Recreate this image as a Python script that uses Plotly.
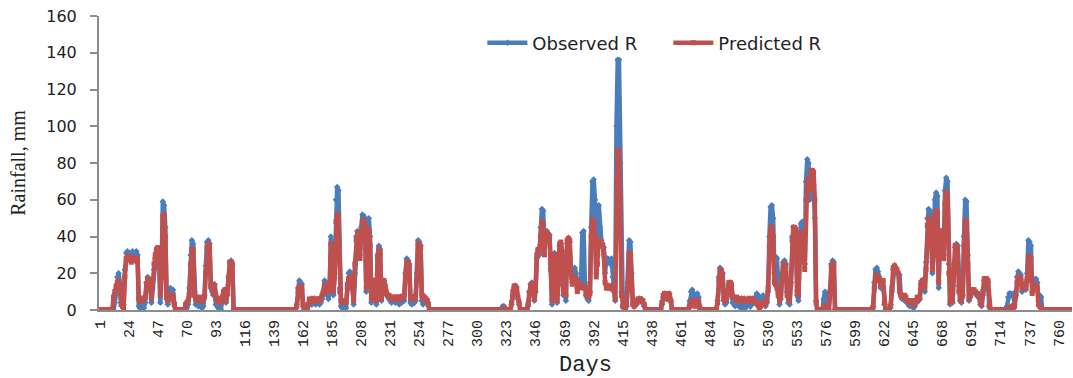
import plotly.graph_objects as go

# ---- data (days with rain; all other days are 0) ----
N_DAYS = 770
tick_days = [1, 24, 47, 70, 93, 116, 139, 162, 185, 208, 231, 254, 277, 300, 323, 346,
             369, 392, 415, 438, 461, 484, 507, 530, 553, 576, 599, 622, 645, 668, 691,
             714, 737, 760]

# Each wet spell: first day, observed values, predicted values (mm, consecutive days)
spell_a1_start = 12
spell_a1_obs = [0, 4, 10, 18, 20, 15, 4, 10, 3, 22, 31, 32, 30, 31, 28, 32, 31, 29, 32, 30,
                2, 1, 3, 2, 1, 4, 15, 18, 17, 16, 4, 12, 22, 28, 33, 31, 30, 4, 20, 59,
                57, 45, 6, 3, 10, 12, 8, 11, 4]
spell_a1_pred = [7, 10, 13, 15, 16, 14, 3, 2, 1, 18, 28, 29, 28, 28, 26, 29, 28, 27, 28, 28,
                 6, 5, 6, 5, 6, 7, 14, 17, 16, 15, 6, 16, 25, 30, 33, 34, 32, 8, 18, 51,
                 52, 40, 8, 5, 7, 8, 6, 8, 3]

spell_a2_start = 69
spell_a2_obs = [0, 1, 3, 12, 30, 38, 36, 10, 3, 5, 2, 4, 3, 1, 2, 8, 24, 37, 38, 36,
                12, 10, 8, 14, 3, 2, 1, 2, 0, 6, 9, 11, 4, 8, 18, 26, 27, 25]
spell_a2_pred = [3, 4, 5, 8, 25, 33, 33, 8, 6, 7, 5, 7, 6, 5, 6, 7, 20, 34, 36, 35,
                 13, 14, 9, 13, 6, 5, 6, 5, 4, 7, 10, 11, 5, 9, 17, 26, 26, 25]

spell_b_start = 157
spell_b_obs = [3, 12, 16, 15, 14, 2, 0, 0, 0, 2, 4, 5, 3, 4, 5, 3, 4, 5, 3, 4,
               6, 10, 16, 15, 8, 6, 10, 40, 30, 8, 20, 60, 67, 65, 12, 2, 1, 3, 2, 1,
               12, 20, 21, 19, 15, 3, 20, 40, 43, 42, 30, 45, 52, 51, 48, 10, 49, 50, 40, 4,
               14, 16, 12, 3, 30, 35, 33, 5, 14, 16, 12, 8, 7, 6, 5, 4, 6, 5, 4, 6,
               5, 3, 5, 4, 6, 5, 20, 28, 27, 25, 4, 3, 5, 4, 5, 20, 38, 37, 35, 5,
               3, 7, 5, 6, 4]
spell_b_pred = [2, 10, 13, 13, 12, 3, 0, 0, 0, 3, 6, 5, 6, 5, 6, 5, 6, 6, 5, 6,
                8, 10, 13, 14, 10, 11, 11, 36, 20, 10, 18, 48, 52, 51, 10, 5, 4, 5, 5, 4,
                14, 17, 18, 18, 12, 5, 25, 38, 42, 41, 28, 42, 48, 49, 45, 12, 43, 44, 35, 6,
                15, 16, 14, 5, 28, 33, 31, 6, 16, 16, 13, 9, 8, 8, 7, 6, 7, 7, 6, 7,
                7, 6, 7, 6, 7, 8, 18, 26, 26, 24, 6, 7, 7, 6, 7, 16, 36, 36, 34, 8,
                6, 7, 6, 5, 3]

spell_c1_start = 320
spell_c1_obs = [2, 2, 1, 0, 0, 0, 0, 3, 8, 12, 13, 12, 6, 3, 0, 0, 0, 0, 0, 0,
                2, 10, 14, 15, 13, 5, 10, 28, 33, 30, 45, 55, 54, 35, 42, 43, 40, 41, 25, 3,
                30, 31, 20, 4, 15, 35, 36, 30, 8, 14, 5, 36, 38, 37, 20, 15, 22, 23, 20, 12,
                14, 15, 16, 42, 43, 15, 8, 6, 5, 10, 45, 70, 71, 60, 20, 30, 57, 45, 38, 36,
                34, 20, 28, 28, 27, 25, 28, 18, 10, 5, 100, 136, 136, 80, 10, 2, 1, 0, 2, 15,
                38, 37, 20, 3, 5, 4, 3, 5, 6, 5, 6, 4, 2]
spell_c1_pred = [0, 1, 0, 0, 0, 0, 0, 4, 10, 13, 13, 12, 7, 4, 0, 0, 0, 0, 0, 0,
                 3, 9, 13, 14, 13, 6, 12, 30, 33, 32, 40, 48, 47, 30, 42, 42, 41, 40, 22, 5,
                 30, 30, 18, 5, 14, 36, 37, 32, 10, 15, 8, 38, 39, 38, 20, 14, 18, 18, 17, 10,
                 13, 14, 12, 14, 13, 12, 8, 8, 7, 9, 40, 49, 48, 40, 18, 25, 38, 36, 37, 35,
                 30, 15, 12, 12, 13, 12, 13, 12, 12, 6, 70, 87, 87, 60, 8, 2, 1, 0, 3, 12,
                 31, 30, 15, 3, 2, 3, 5, 6, 6, 6, 5, 5, 3]

spell_c2_start = 446
spell_c2_obs = [3, 7, 9, 8, 6, 8, 9, 5]
spell_c2_pred = [4, 8, 9, 8, 6, 9, 8, 5]

spell_d1_start = 467
spell_d1_obs = [1, 5, 10, 11, 9, 3, 8, 9, 7, 0]
spell_d1_pred = [0, 2, 4, 5, 5, 2, 4, 5, 4, 1]

spell_d2_start = 490
spell_d2_obs = [5, 18, 23, 22, 20, 5, 3, 4, 8, 14, 15, 13, 4, 3, 2, 4, 3, 2, 3, 1,
                2, 3, 1, 2, 4, 3, 2, 3, 5, 4, 6, 9, 8, 2, 3, 6, 8, 5, 2, 4,
                10, 40, 56, 57, 50, 20, 29, 28, 12, 3, 6, 20, 26, 27, 25, 10, 4, 3, 15, 40,
                45, 44, 43, 8, 5, 30, 47, 48, 40, 25, 70, 82, 80, 60, 70, 72, 68, 50, 5, 0,
                0, 0, 0, 0, 6, 10, 9, 5, 0, 8, 25, 27, 26]
spell_d2_pred = [4, 16, 22, 21, 19, 6, 5, 6, 10, 15, 15, 14, 7, 7, 6, 7, 5, 6, 5, 6,
                 5, 6, 5, 5, 6, 5, 6, 5, 6, 5, 5, 4, 3, 1, 2, 3, 4, 3, 4, 5,
                 12, 35, 45, 45, 40, 15, 14, 12, 8, 5, 8, 18, 25, 25, 24, 8, 6, 5, 14, 38,
                 45, 45, 44, 10, 8, 28, 42, 42, 36, 22, 60, 70, 71, 65, 76, 76, 75, 60, 4, 0,
                 0, 0, 0, 0, 1, 2, 1, 0, 0, 10, 24, 25, 24]

spell_e1_start = 613
spell_e1_obs = [2, 15, 22, 23, 21, 18, 12, 14, 13, 3, 0, 0, 0, 0, 3, 10, 22, 23, 22, 21,
                20, 19, 8, 6, 7, 5, 6, 4, 3, 2, 4, 3, 1, 2, 4, 6, 5, 6, 14, 15,
                14, 10, 26, 50, 55, 54, 48, 20, 30, 60, 64, 62, 12, 42, 43, 40, 30, 65, 72, 70,
                25, 3, 6, 4, 20, 34, 36, 35, 13, 5, 4, 8, 40, 60, 59, 30, 5, 7, 10, 11,
                10, 9, 8, 9, 7, 3, 2, 8, 16, 17, 16, 15, 2]
spell_e1_pred = [1, 12, 19, 19, 18, 16, 14, 16, 16, 4, 0, 0, 0, 0, 2, 12, 23, 24, 23, 22,
                 20, 10, 8, 7, 8, 8, 7, 5, 5, 4, 5, 5, 3, 3, 5, 7, 6, 7, 15, 16,
                 15, 12, 22, 46, 50, 49, 45, 22, 30, 52, 54, 53, 15, 42, 43, 40, 28, 58, 64, 62,
                 20, 4, 7, 5, 22, 35, 35, 34, 10, 6, 5, 8, 35, 49, 48, 25, 6, 8, 11, 11,
                 11, 10, 9, 9, 8, 4, 3, 10, 17, 17, 17, 16, 2]

spell_e2_start = 719
spell_e2_obs = [2, 7, 9, 9, 8, 9, 3, 8, 18, 21, 20, 19, 10, 12, 13, 11, 20, 38, 37, 35,
                10, 17, 16, 17, 15, 5, 8, 7]
spell_e2_pred = [0, 0, 1, 1, 2, 1, 2, 8, 15, 18, 18, 17, 12, 14, 14, 12, 16, 29, 29, 28,
                 9, 14, 13, 14, 12, 3, 2, 1]

spells = [
    (spell_a1_start, spell_a1_obs, spell_a1_pred),
    (spell_a2_start, spell_a2_obs, spell_a2_pred),
    (spell_b_start, spell_b_obs, spell_b_pred),
    (spell_c1_start, spell_c1_obs, spell_c1_pred),
    (spell_c2_start, spell_c2_obs, spell_c2_pred),
    (spell_d1_start, spell_d1_obs, spell_d1_pred),
    (spell_d2_start, spell_d2_obs, spell_d2_pred),
    (spell_e1_start, spell_e1_obs, spell_e1_pred),
    (spell_e2_start, spell_e2_obs, spell_e2_pred),
]

days = list(range(1, N_DAYS + 1))
observed = [0.0] * N_DAYS
predicted = [0.0] * N_DAYS
for start, obs_vals, pred_vals in spells:
    assert len(obs_vals) == len(pred_vals), (start, len(obs_vals), len(pred_vals))
    for i, (o, p) in enumerate(zip(obs_vals, pred_vals)):
        observed[start - 1 + i] = o
        predicted[start - 1 + i] = p

BLUE = "#4A7EBB"
RED = "#C0504D"

fig = go.Figure()
fig.add_trace(go.Scatter(
    x=days, y=observed, name="Observed R", mode="lines+markers",
    line=dict(color=BLUE, width=4.5), marker=dict(color=BLUE, size=5, symbol="diamond"),
))
fig.add_trace(go.Scatter(
    x=days, y=predicted, name="Predicted R", mode="lines+markers",
    line=dict(color=RED, width=4.5), marker=dict(color=RED, size=5, symbol="square"),
))

fig.update_layout(
    width=1073, height=378,
    margin=dict(l=99, r=1, t=16, b=68),
    paper_bgcolor="white", plot_bgcolor="white",
    showlegend=True,
    legend=dict(orientation="h", x=0.394, y=0.908, xanchor="left", yanchor="middle",
                font=dict(family="DejaVu Sans", size=18, color="#222222"),
                bgcolor="rgba(0,0,0,0)", itemwidth=40, tracegroupgap=0,
                entrywidth=131, entrywidthmode="pixels"),
    xaxis=dict(
        range=[0.5, N_DAYS + 0.5],
        tickmode="array", tickvals=tick_days, ticktext=[str(d) for d in tick_days],
        tickangle=-90,
        tickfont=dict(family="Liberation Mono", size=15, color="#222222"),
        ticks="", ticklabelstandoff=2,
        showline=True, linecolor="#8C8C8C", linewidth=2,
        showgrid=False, zeroline=False,
        title=dict(text="Days", font=dict(family="Liberation Mono", size=22, color="#222222"),
                   standoff=10),
    ),
    yaxis=dict(
        range=[0, 160], tickmode="linear", tick0=0, dtick=20,
        tickfont=dict(family="DejaVu Sans", size=16, color="#222222"),
        ticks="outside", ticklen=7, tickcolor="#8C8C8C", tickwidth=1.5,
        ticklabelstandoff=10,
        showline=True, linecolor="#8C8C8C", linewidth=2,
        showgrid=False, zeroline=False,
        title=dict(text="Rainfall, mm", font=dict(family="Liberation Serif", size=20, color="#222222"),
                   standoff=15),
    ),
)

fig.write_html("out.html", config={"displayModeBar": False},
               post_script="document.body.style.margin='0';")
